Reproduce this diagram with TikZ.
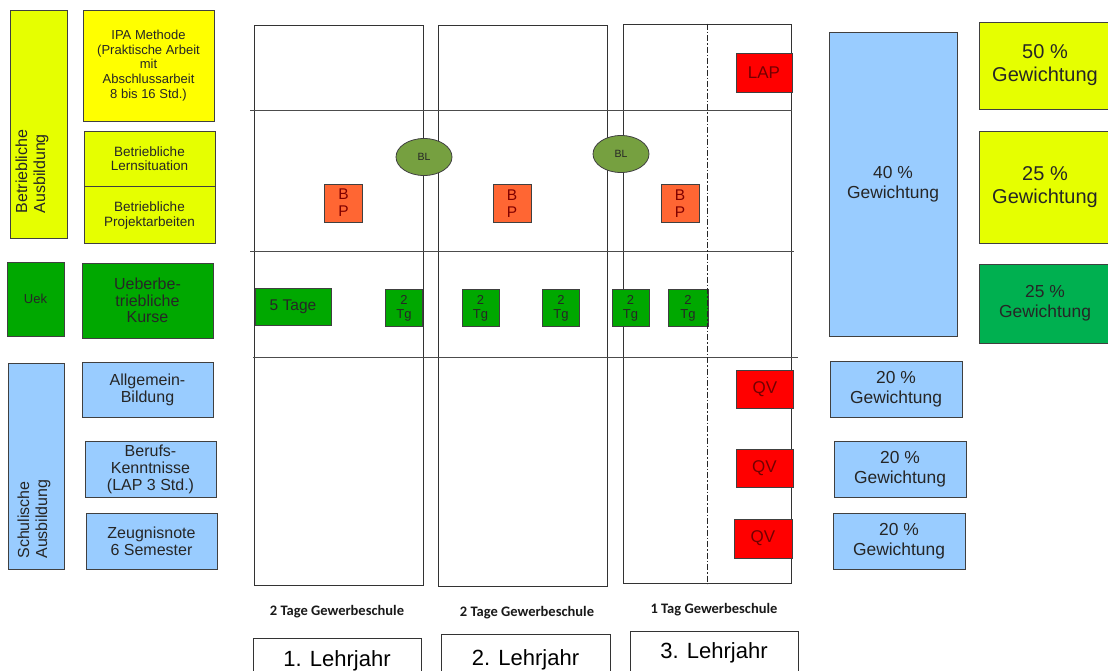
\documentclass[tikz,border=0pt]{standalone}
\usepackage{fontspec}
\setmainfont{Liberation Sans}
\newfontfamily\calibrifont{Carlito}
\usepackage{xcolor}
\usepackage{tikz}
\usetikzlibrary{positioning,shapes.geometric}

\definecolor{ipayellow}{RGB}{255,255,0}
\definecolor{limeyellow}{RGB}{230,255,0}
\definecolor{kursgreen}{RGB}{0,168,0}
\definecolor{weightgreen}{RGB}{0,176,80}
\definecolor{schoolblue}{RGB}{153,204,255}
\definecolor{bporange}{RGB}{255,102,51}
\definecolor{blolive}{RGB}{118,160,64}

\begin{document}
\begin{tikzpicture}[
    x=1pt,
    y=-1pt,
    dims/.style 2 args={
        minimum width=#1pt,
        minimum height=#2pt
    },
    box/.style={
        draw=black!75,
        line width=0.8pt,
        inner sep=0pt,
        align=center,
        text=black!85,
        font=\fontsize{16}{17}\selectfont
    },
    limebox/.style={
        box,
        fill=limeyellow,
        font=\fontsize{13.5}{14.5}\selectfont
    },
    bluebox/.style={
        box,
        fill=schoolblue
    },
    greenbox/.style={
        box,
        fill=kursgreen
    },
    sidelabel/.style={
        rotate=90,
        align=left,
        inner sep=0pt,
        text=black!85,
        font=\fontsize{16}{18}\selectfont
    },
    column/.style={
        draw=black!80,
        line width=1pt
    },
    rule/.style={
        draw=black!70,
        line width=1pt
    },
    dashdot/.style={
        draw=black!85,
        line width=0.8pt,
        dash pattern=on 6pt off 2pt on 1.5pt off 2pt
    },
    blnode/.style={
        ellipse,
        draw=black!75,
        line width=0.8pt,
        fill=blolive,
        inner sep=0pt,
        dims={56}{37},
        text=black!85,
        font=\fontsize{10.5}{11}\selectfont
    },
    bpbox/.style={
        box,
        fill=bporange,
        dims={38}{38},
        text=red!50!black,
        font=\fontsize{15.5}{16.7}\selectfont
    },
    tgbox/.style={
        box,
        fill=kursgreen,
        dims={37}{37},
        font=\fontsize{13}{14}\selectfont
    },
    qvbox/.style={
        box,
        fill=red,
        dims={57}{38},
        text=red!45!black,
        font=\fontsize{17}{19}\selectfont
    },
    weightbox/.style={
        box,
        font=\fontsize{17.4}{20}\selectfont
    },
    bigweight/.style={
        box,
        fill=limeyellow,
        dims={132}{#1},
        font=\fontsize{20}{23}\selectfont
    },
    gsnote/.style={
        inner sep=0pt,
        text=black!90,
        font=\calibrifont\bfseries\fontsize{14.5}{16}\selectfont
    },
    yearbox/.style={
        draw=black!80,
        line width=1pt,
        fill=white,
        inner sep=0pt,
        text depth=0pt,
        font=\fontsize{22}{24}\selectfont
    }
]

\useasboundingbox (0,0) rectangle (1108,670);
\clip (0,0) rectangle (1108,670);
\fill[white] (0,0) rectangle (1108,670);

\node[limebox, dims={57}{228}] (betrieb) at (38.5,124) {};
\node[sidelabel] (betriebtext) at (32,171.5) {Betriebliche\\Ausbildung};

\node[limebox, fill=ipayellow, dims={131}{111},
      font=\fontsize{13}{14.7}\selectfont] (ipa) at (148.5,65.5) {
    IPA Methode\\
    (Praktische Arbeit\\
    mit\\
    Abschlussarbeit\\
    8 bis 16 Std.)
};

\node[limebox, dims={131}{55}] (lern) at (149.5,158.5) {
    Betriebliche\\
    Lernsituation
};

\node[limebox, dims={131}{57}, below=0pt of lern] (projekt) {
    Betriebliche\\
    Projektarbeiten
};

\node[greenbox, dims={57}{74}, font=\fontsize{13}{14}\selectfont] (uek) at (35.5,299) {Uek};

\node[greenbox, dims={131}{75}, font=\fontsize{16}{16.7}\selectfont] (kurse) at (147.5,300.5) {
    Ueberbe-\\
    triebliche\\
    Kurse
};

\node[bluebox, dims={56}{206}] (schule) at (36,466) {};
\node[sidelabel] (schuletext) at (34,519) {Schulische\\Ausbildung};

\node[bluebox, dims={131}{55}] (allgemein) at (147.5,389.5) {
    Allgemein-\\
    Bildung
};

\node[bluebox, dims={131}{56}] (beruf) at (150.5,469) {
    Berufs-\\
    Kenntnisse\\
    (LAP 3 Std.)
};

\node[bluebox, dims={131}{56}] (zeugnis) at (151.5,541) {
    Zeugnisnote\\
    6 Semester
};

\node[column, dims={169}{560}] (col1) at (338.5,305) {};
\node[column, dims={169}{561}] (col2) at (522.5,305.5) {};
\node[column, dims={168}{559}] (col3) at (707,303.5) {};

\draw[rule] (250,110) -- (792,110);
\draw[rule] (250,251) -- (794,251);
\draw[rule] (253,357) -- (798,357);

\node[qvbox, dims={56}{39}] (lap) at (764,72.5) {LAP};

\node[blnode] (bl1) at (424,157) {BL};
\node[blnode] (bl2) at (621,154) {BL};

\node[bpbox] (bp1) at (343.5,203) {B\\P};
\node[bpbox] (bp2) at (512,203.5) {B\\P};
\node[bpbox] (bp3) at (680,203.5) {B\\P};

\node[greenbox, dims={76}{37}, font=\fontsize{15.5}{17}\selectfont] (tage) at (293,306.5) {5 Tage};

\node[tgbox] (tg1) at (404,308) {2\\Tg};
\node[tgbox] (tg2) at (480.5,308) {2\\Tg};
\node[tgbox] (tg3) at (561,308) {2\\Tg};
\node[tgbox] (tg4) at (630.5,308) {2\\Tg};
\node[tgbox, dims={40}{37}] (tg5) at (688,308) {2\\Tg};

\draw[dashdot] (col3.north) -- (col3.south);

\node[qvbox] (qv1) at (765,389.5) {QV};
\node[qvbox] (qv2) at (764.5,468) {QV};
\node[qvbox, dims={58}{39}] (qv3) at (763,538.5) {QV};

\node[weightbox, fill=schoolblue, dims={128}{304}] (w40) at (893,184) {
    40 \%\\
    Gewichtung
};

\node[bigweight=87] (w50) at (1045,65.5) {
    50 \%\\
    Gewichtung
};

\node[bigweight=112] (w25a) at (1045,187) {
    25 \%\\
    Gewichtung
};

\node[weightbox, fill=weightgreen, dims={132}{79}] (w25b) at (1045,303.5) {
    25 \%\\
    Gewichtung
};

\node[weightbox, fill=schoolblue, dims={132}{56}] (w20a) at (896,389) {
    20 \%\\
    Gewichtung
};

\node[weightbox, fill=schoolblue, dims={132}{56}] (w20b) at (900,469) {
    20 \%\\
    Gewichtung
};

\node[weightbox, fill=schoolblue, dims={132}{56}] (w20c) at (899,541) {
    20 \%\\
    Gewichtung
};

\node[gsnote] (gs1) at (337,612) {2 Tage Gewerbeschule};
\node[gsnote] (gs2) at (527,613) {2 Tage Gewerbeschule};
\node[gsnote] (gs3) at (714,610) {1 Tag Gewerbeschule};

\node[yearbox, dims={168}{42}] (year1) at (337,659) {1. Lehrjahr};
\node[yearbox, dims={169}{48}] (year2) at (525.5,658) {2. Lehrjahr};
\node[yearbox, dims={168}{40}] (year3) at (714,651) {3. Lehrjahr};

\end{tikzpicture}
\end{document}
